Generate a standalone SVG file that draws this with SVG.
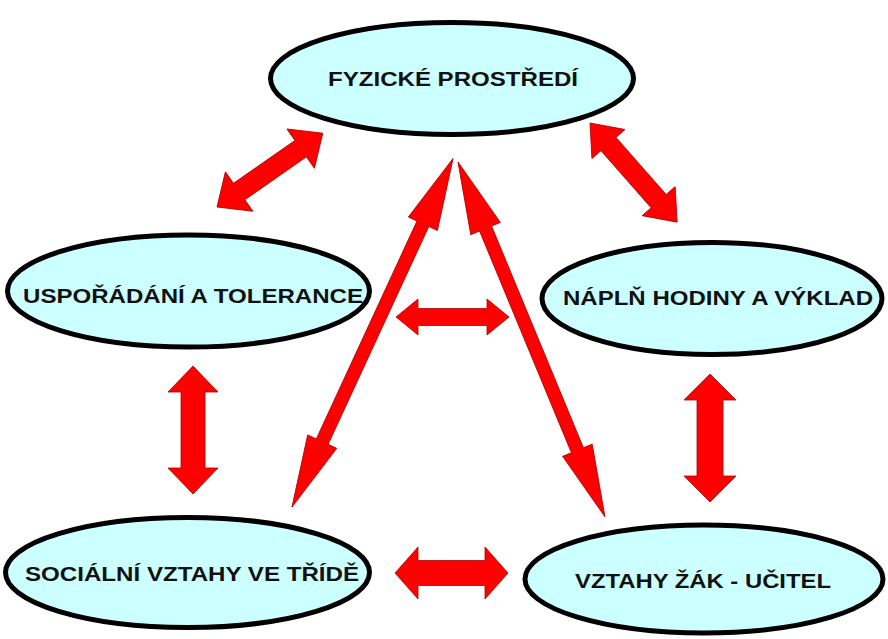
<svg xmlns="http://www.w3.org/2000/svg" width="888" height="639" viewBox="0 0 888 639">
<style>
.node ellipse{fill:#ccffff;stroke:#000;stroke-width:5}
.node text{font-family:"Liberation Sans",Arial,sans-serif;font-weight:bold;font-size:20px;fill:#111;text-anchor:middle}
.arr{fill:#ff0000;stroke:#b00000;stroke-width:0.8;stroke-linejoin:miter}
</style>
<rect width="888" height="639" fill="#fff"/>
<g id="connectors">
  <polygon class="arr" transform="translate(217,207) rotate(-34.9)" points="0,0 27,-24 27,-10 102,-10 102,-24 129,0 102,24 102,10 27,10 27,24"/>
  <polygon class="arr" transform="translate(590,123) rotate(48.7)" points="0,0 28,-22 28,-10 104,-10 104,-22 132,0 104,22 104,10 28,10 28,22"/>
  <polygon class="arr" transform="translate(396,317)" points="0,0 22,-18 22,-8.5 91,-8.5 91,-18 113,0 91,18 91,8.5 22,8.5 22,18"/>
  <polygon class="arr" transform="translate(193,366) rotate(90)" points="0,0 26,-25 26,-12 102,-12 102,-25 128,0 102,25 102,12 26,12 26,25"/>
  <polygon class="arr" transform="translate(710,374) rotate(90)" points="0,0 26,-26 26,-13 102,-13 102,-26 128,0 102,26 102,13 26,13 26,26"/>
  <polygon class="arr" transform="translate(395,573)" points="0,0 23,-26 23,-12.5 90,-12.5 90,-26 113,0 90,26 90,12.5 23,12.5 23,26"/>
  <polygon class="arr" transform="translate(292,507) rotate(-65.2)" points="0,0 72,-16 72,-6.5 312,-6.5 312,-16 384,0 312,16 312,6.5 72,6.5 72,16"/>
  <polygon class="arr" transform="translate(458,162) rotate(67.5)" points="0,0 72,-16 72,-6.5 312,-6.5 312,-16 384,0 312,16 312,6.5 72,6.5 72,16"/>
</g>
<g id="node-fyzicke" class="node">
  <ellipse cx="452" cy="78.5" rx="181.5" ry="56"/>
  <text x="453" y="86" textLength="250" lengthAdjust="spacingAndGlyphs">FYZICKÉ PROSTŘEDÍ</text>
</g>
<g id="node-usporadani" class="node">
  <ellipse cx="188.5" cy="291" rx="181" ry="56"/>
  <text x="193" y="303" textLength="340" lengthAdjust="spacingAndGlyphs">USPOŘÁDÁNÍ A TOLERANCE</text>
</g>
<g id="node-napln" class="node">
  <ellipse cx="712" cy="298.5" rx="170" ry="56"/>
  <text x="718" y="305" textLength="310" lengthAdjust="spacingAndGlyphs">NÁPLŇ HODINY A VÝKLAD</text>
</g>
<g id="node-socialni" class="node">
  <ellipse cx="187.5" cy="572.5" rx="182" ry="55"/>
  <text x="192" y="581" textLength="334" lengthAdjust="spacingAndGlyphs">SOCIÁLNÍ VZTAHY VE TŘÍDĚ</text>
</g>
<g id="node-zak-ucitel" class="node">
  <ellipse cx="704" cy="579" rx="179" ry="54"/>
  <text x="703" y="588" textLength="256" lengthAdjust="spacingAndGlyphs">VZTAHY ŽÁK - UČITEL</text>
</g>
</svg>
